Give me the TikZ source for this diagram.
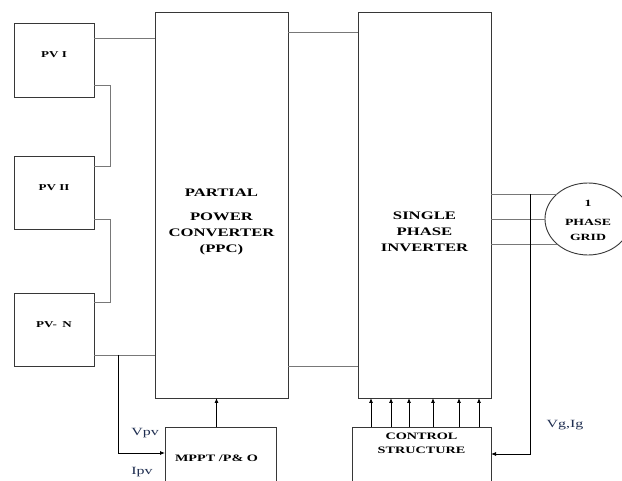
\documentclass[tikz,border=0pt]{standalone}
\usepackage{fontspec}
\setmainfont{Liberation Serif}
\newfontfamily\widefont[FakeStretch=1.45]{Liberation Serif}
\usetikzlibrary{shapes.geometric, arrows.meta, positioning, calc}
\definecolor{boxline}{RGB}{55, 55, 55}
\definecolor{wireline}{RGB}{120, 120, 120}
\definecolor{signalblue}{RGB}{30, 45, 80}

\begin{document}
\begin{tikzpicture}[
    x=1pt, y=-1pt,
    blockBox/.style={draw=boxline, line width=0.9pt, inner sep=0pt, outer sep=0pt},
    capText/.style={font={\widefont\bfseries\fontsize{#1}{16}\selectfont}, align=center, inner sep=0pt},
    wireLine/.style={draw=wireline, line width=0.9pt},
    signalArrow/.style={draw=black, line width=0.8pt, -{Latex[length=5pt, width=4pt]}},
    signalLabel/.style={font={\widefont\fontsize{11}{13}\selectfont}, color=signalblue, inner sep=0pt}
]
\path[use as bounding box, fill=white] (0,0) rectangle (622,481);

% PV strings
\node[blockBox, minimum width=80, minimum height=74,
      label={[capText=9, yshift=5]center:PV I}] (pv1) at (54,60) {};
\node[blockBox, minimum width=80, minimum height=73,
      label={[capText=9, yshift=5]center:PV II}] (pv2) at (54,192.5) {};
\node[blockBox, minimum width=80, minimum height=73,
      label={[capText=9, yshift=5]center:PV-\hspace{0.6em}N}] (pvn) at (54,329.5) {};

% Converter and inverter
\node[blockBox, minimum width=133, minimum height=386,
      label={[capText=11.5, yshift=-17]center:PARTIAL\\[8pt]POWER\\CONVERTER\\(PPC)}] (ppc) at (221.5,205) {};
\node[blockBox, minimum width=133, minimum height=386,
      label={[capText=11.5, yshift=-26.5]center:SINGLE\\PHASE\\INVERTER}] (inv) at (424.5,205) {};

% Grid
\node[blockBox, ellipse, minimum width=86, minimum height=72] (grid) at (588,219) {};
\node[capText=9.5] (gridText) at (588,220) {1\\[3pt]PHASE\\[-1pt]GRID};

% Control blocks
\node[blockBox, minimum width=111, minimum height=68,
      label={[capText=9.8, xshift=-4, yshift=3]center:MPPT /P\&\ O}] (mppt) at (220.5,461) {};
\node[blockBox, minimum width=139, minimum height=68] (ctrl) at (421.5,461) {};
\node[capText=9.8, below=5.5pt of ctrl.north, font={\widefont\bfseries\fontsize{9.8}{14}\selectfont}] (ctrlText) {CONTROL\\STRUCTURE};

% Signal labels
\node[signalLabel] (vpv) at (145,433) {Vpv};
\node[signalLabel] (ipv) at (142,472) {Ipv};
\node[signalLabel] (vgig) at (565,425) {Vg,Ig};

% PV wiring
\coordinate (pvTop) at ([yshift=-15]pv1.north east);
\draw[wireLine] (pvTop) -- (pvTop -| ppc.west);
\draw[wireLine] ([yshift=12]pv1.south east) -- ++(16,0) |- ([yshift=-10]pv2.north east);
\draw[wireLine] ([yshift=10]pv2.south east) -- ++(16,0) |- ([yshift=-9]pvn.north east);
\coordinate (pvBot) at ([yshift=11]pvn.south east);
\draw[wireLine] (pvBot) -- (pvBot -| ppc.west);

% Sensing and MPPT
\path (pvBot) ++(24,0) coordinate (sense);
\draw[signalArrow] (sense) |- ([yshift=-26]mppt.north west);
\coordinate (mpptUp) at ([xshift=-4]mppt.north);
\draw[signalArrow] (mpptUp) -- (mpptUp |- ppc.south);

% DC link
\draw[wireLine] ([yshift=-20]ppc.north east) -- ([yshift=-20]inv.north west);
\draw[wireLine] ([yshift=32]ppc.south east) -- ([yshift=32]inv.south west);

% Gate signals
\foreach \dx in {13,33,51,75,101,121}{
  \path (inv.south west) ++(\dx,0) coordinate (gateUp);
  \draw[signalArrow] (gateUp |- ctrl.north) -- (gateUp);
}

% Grid connection and feedback
\foreach \ang in {141,180,219}
  \draw[wireLine] (inv.east |- grid.\ang) -- (grid.\ang);
\path (inv.east |- grid.141) ++(39,0) coordinate (fbTap);
\draw[signalArrow] (fbTap) |- ([yshift=-27]ctrl.north east);

\end{tikzpicture}
\end{document}
